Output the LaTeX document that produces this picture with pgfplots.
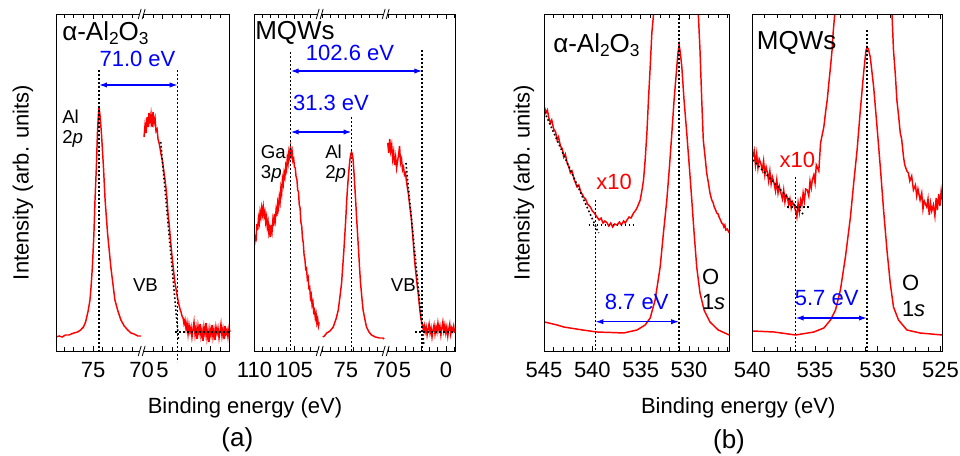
\documentclass[border=0pt]{standalone}
\usepackage{fontspec}
\setmainfont{Liberation Sans}
\usepackage{pgfplots}
\pgfplotsset{compat=1.18}
\usetikzlibrary{arrows.meta}
\definecolor{myred}{RGB}{255,0,0}
\definecolor{myblue}{RGB}{0,0,255}
\newcommand\fa{\fontsize{16.5}{19}\selectfont}
\newcommand\fb{\fontsize{14}{16}\selectfont}
\newcommand\ft{\fontsize{19.5}{22}\selectfont}
\newcommand\sub[1]{\raisebox{-0.25ex}{\fontsize{13}{14}\selectfont #1}}
\pgfplotsset{
  seg/.style={
    scale only axis, height=252.75pt, ymin=0, ymax=337, x dir=reverse,
    anchor=south west, ytick=\empty,
    axis line style={draw=none},
    tick style={black, line width=0.6pt},
    major tick length=4pt, minor tick length=3pt,
    xticklabel style={font=\fa, inner sep=1pt, yshift=-7pt},
    /pgf/number format/assume math mode=true,
  },
  curve/.style={myred, line width=1.1pt, no markers},
  dots/.style={black, line width=1.2pt, dash pattern=on 1.2pt off 1.8pt, no markers},
}
\newcommand\brk[1]{%
 \fill[white] ([shift={(-2.2pt,-3.6pt)}]#1) -- ([shift={(-0.2pt,3.6pt)}]#1) -- ([shift={(2.2pt,3.6pt)}]#1) -- ([shift={(0.2pt,-3.6pt)}]#1) -- cycle;
 \draw[line width=0.6pt] ([shift={(-2.6pt,-3.8pt)}]#1) -- ([shift={(-0.4pt,3.8pt)}]#1);
 \draw[line width=0.6pt] ([shift={(0.4pt,-3.8pt)}]#1) -- ([shift={(2.6pt,3.8pt)}]#1);
}
\begin{document}
\begin{tikzpicture}
\useasboundingbox (0,0) rectangle (720pt,341.25pt);
% ---------------- panel 1a
\begin{axis}[seg, name=p1a, at={(42pt,78pt)}, width=64.275pt, xmin=70, xmax=78.83,
  xtick={70,75}, minor xtick={71,72,73,74,76,77,78}]
\addplot[curve] coordinates {(78.83,14) (78.5,15) (78.2,14) (77.86,16) (77.5,16) (77.0,18) (76.6,19) (76.30,21) (76.0,24) (75.78,29) (75.52,40) (75.33,51) (75.21,65) (75.08,84) (74.92,118) (74.81,151) (74.67,184) (74.56,218) (74.47,235) (74.40,244) (74.30,236) (74.15,218) (73.94,184) (73.77,151) (73.52,118) (73.18,84) (72.76,51) (72.45,40) (72.14,31) (71.8,25) (71.44,21) (71.1,18) (70.78,17) (70.4,15) (70.05,15)};
\addplot[dots] coordinates {(74.40,281) (74.40,0)};
\coordinate (a1) at (axis cs:74.40,266);
\end{axis}
% ---------------- panel 1b
\begin{axis}[seg, name=p1b, at={(106.275pt,78pt)}, width=66.225pt, xmin=-2.03, xmax=7.17,
  xtick={0,5}, minor xtick={-2,-1,1,2,3,4,6,7}, clip=false]
\addplot[curve] coordinates {(6.93,214) (6.82,226) (6.72,218) (6.61,234) (6.51,224) (6.41,238) (6.30,229) (6.20,237) (6.09,224) (5.99,239) (5.89,228) (5.78,233) (5.68,220) (5.57,222) (5.47,212) (5.36,208) (5.26,203) (5.16,197) (5.05,192) (4.95,186) (4.84,178) (4.74,171) (4.64,163) (4.53,152) (4.43,138) (4.32,128) (4.22,117) (4.11,105) (4.01,95) (3.91,86) (3.80,76) (3.70,68) (3.59,62) (3.49,56) (3.39,51) (3.28,46) (3.18,42) (3.07,39) (2.97,35) (2.86,33) (2.76,27) (2.66,31) (2.55,22) (2.45,28) (2.34,17) (2.24,26) (2.14,19) (2.03,24) (1.93,14) (1.82,22) (1.72,29) (1.61,16) (1.51,23) (1.41,12) (1.30,25) (1.20,18) (1.09,27) (0.99,15) (0.89,21) (0.78,10) (0.68,24) (0.57,17) (0.47,28) (0.36,13) (0.26,20) (0.16,9) (0.05,22) (-0.05,16) (-0.16,26) (-0.26,14) (-0.36,21) (-0.47,11) (-0.57,24) (-0.68,18) (-0.78,23) (-0.89,13) (-0.99,20) (-1.09,27) (-1.20,15) (-1.30,22) (-1.41,12) (-1.51,25) (-1.61,17) (-1.72,21) (-1.82,14) (-1.93,23) (-2.03,19)};
\addplot[dots] coordinates {(3.42,281) (3.42,-11)};
\addplot[dots] coordinates {(5.19,209) (3.32,10)};
\addplot[dots] coordinates {(3.70,19) (-2.03,19)};
\coordinate (a2) at (axis cs:3.42,266);
\end{axis}
% ---------------- panel 2a
\begin{axis}[seg, name=p2a, at={(190.5pt,78pt)}, width=49.275pt, xmin=101.85, xmax=110.06,
  xtick={105,110}, minor xtick={102,103,104,106,107,108,109}]
\addplot[curve] coordinates {(110.0,106) (109.9,114) (109.8,112) (109.7,127) (109.6,121) (109.5,133) (109.4,128) (109.3,139) (109.2,134) (109.1,143) (109.0,137) (108.9,144) (108.8,135) (108.7,139) (108.6,129) (108.5,134) (108.4,124) (108.3,129) (108.2,118) (108.1,123) (108.0,114) (107.9,126) (107.8,120) (107.7,131) (107.6,125) (107.5,137) (107.4,131) (107.3,141) (107.2,135) (107.1,148) (107.0,143) (106.9,154) (106.8,149) (106.7,163) (106.6,158) (106.5,172) (106.4,167) (106.3,178) (106.2,174) (106.1,185) (106.0,181) (105.9,193) (105.8,188) (105.7,199) (105.6,194) (105.5,203) (105.4,196) (105.3,200) (105.2,190) (105.1,192) (105.0,184) (104.9,183) (104.8,174) (104.7,172) (104.6,161) (104.5,159) (104.4,146) (104.3,143) (104.2,129) (104.1,125) (104.0,113) (103.9,108) (103.8,96) (103.7,92) (103.6,82) (103.5,83) (103.4,72) (103.3,74) (103.2,63) (103.1,64) (103.0,53) (102.9,56) (102.8,46) (102.7,49) (102.6,39) (102.5,41) (102.4,33) (102.3,37) (102.2,28) (102.1,32) (102.0,25) (101.9,29)};
\addplot[dots] coordinates {(105.48,299) (105.48,0)};
\coordinate (b1) at (axis cs:105.48,280);
\coordinate (c1) at (axis cs:105.48,219);
\end{axis}
% ---------------- panel 2b
\begin{axis}[seg, name=p2b, at={(239.775pt,78pt)}, width=49.5pt, xmin=70.0, xmax=78.29,
  xtick={70,75}, minor xtick={71,72,73,74,76,77,78}]
\addplot[curve] coordinates {(77.91,14) (77.7,15) (77.41,18) (77.0,20) (76.59,24) (76.2,33) (75.96,41) (75.75,54) (75.54,68) (75.4,84) (75.25,101) (75.12,118) (75.0,134) (74.9,150) (74.79,164) (74.65,178) (74.5,191) (74.38,197) (74.29,199) (74.2,197) (74.09,191) (73.98,178) (73.875,164) (73.77,150) (73.66,134) (73.54,118) (73.41,101) (73.29,84) (73.16,68) (73.0,54) (72.84,41) (72.6,31) (72.41,24) (72.1,19) (71.79,16) (71.3,14) (70.8,13) (70.34,13) (70.21,12)};
\addplot[dots] coordinates {(74.29,234) (74.29,0)};
\coordinate (c2) at (axis cs:74.29,219);
\end{axis}
% ---------------- panel 2c
\begin{axis}[seg, name=p2c, at={(289.275pt,78pt)}, width=51.975pt, xmin=-1.10, xmax=7.35,
  xtick={0,5}, minor xtick={-1,1,2,3,4,6,7}]
\addplot[curve] coordinates {(7.10,208) (6.98,198) (6.86,212) (6.74,200) (6.62,206) (6.50,192) (6.38,199) (6.26,186) (6.14,194) (6.02,183) (5.90,190) (5.78,196) (5.66,205) (5.54,188) (5.42,192) (5.30,181) (5.18,184) (5.06,176) (4.94,178) (4.82,170) (4.70,163) (4.58,157) (4.46,148) (4.34,140) (4.22,132) (4.10,120) (3.98,108) (3.86,94) (3.74,83) (3.62,74) (3.50,65) (3.38,57) (3.26,47) (3.14,38) (3.02,31) (2.90,26) (2.78,22) (2.66,26) (2.54,19) (2.42,24) (2.30,16) (2.18,22) (2.06,27) (1.94,18) (1.82,23) (1.70,14) (1.58,21) (1.46,26) (1.34,17) (1.22,24) (1.10,19) (0.98,28) (0.86,21) (0.74,25) (0.62,16) (0.50,23) (0.38,29) (0.26,20) (0.14,26) (0.02,18) (-0.10,24) (-0.22,15) (-0.34,22) (-0.46,27) (-0.58,17) (-0.70,23) (-0.82,20) (-0.94,25) (-1.06,18)};
\addplot[dots] coordinates {(2.89,301) (2.89,0)};
\addplot[dots] coordinates {(4.88,188) (2.68,5)};
\addplot[dots] coordinates {(3.78,19) (-1.10,19)};
\coordinate (b2) at (axis cs:2.89,280);
\end{axis}
% ---------------- panel 3
\begin{axis}[seg, name=p3, at={(408pt,78pt)}, width=139.125pt, xmin=525.82, xmax=545,
  xtick={530,535,540,545}, minor xtick={526,...,544}]
\addplot[curve] coordinates {(544.95,29) (543.64,26) (542.96,24) (541.0,21) (539.52,19) (538.0,18.5) (536.77,18) (535.39,21) (534.54,26) (534.02,33) (533.51,51) (532.99,84) (532.65,118) (532.30,151) (532.03,184) (531.78,218) (531.55,251) (531.27,284) (531.15,298) (531.03,306) (530.9,298) (530.75,284) (530.52,251) (530.24,218) (529.97,184) (529.72,151) (529.48,118) (529.21,84) (528.87,58) (528.45,41) (527.84,29) (526.98,21) (525.85,16)};
\addplot[curve] coordinates {(544.95,244) (544.8,238) (544.65,241) (544.5,233) (544.33,228) (544.2,231) (544.0,222) (543.8,219) (543.64,211) (543.5,214) (543.3,205) (543.1,202) (542.96,194) (542.8,197) (542.6,188) (542.4,183) (542.27,178) (542.1,180) (541.9,172) (541.7,167) (541.58,164) (541.4,166) (541.2,159) (541.0,156) (540.90,154) (540.7,152) (540.5,147) (540.3,145) (540.21,144) (540.0,140) (539.8,138) (539.52,134) (539.3,131) (539.1,133) (538.9,128) (538.7,130) (538.48,128) (538.3,125) (538.1,128) (537.9,124) (537.7,127) (537.45,126) (537.2,129) (537.0,126) (536.77,130) (536.6,128) (536.42,131) (536.2,134) (536.0,133) (535.74,138) (535.5,141) (535.3,145) (535.05,151) (534.85,162) (534.71,171) (534.54,191) (534.36,218) (534.20,251) (534.02,284) (533.85,318) (533.68,336) (533.4,400) (529.2,400) (529.04,336) (528.87,301) (528.69,251) (528.53,211) (528.3,190) (528.18,178) (528.0,168) (527.84,158) (527.66,151) (527.5,148) (527.4,144) (527.25,141) (527.14,138) (527.0,137) (526.9,134) (526.75,131) (526.63,128) (526.5,127) (526.4,124) (526.3,126) (526.2,121) (526.05,122) (525.85,118)};
\addplot[dots] coordinates {(544.95,239) (539.35,118)};
\addplot[dots] coordinates {(540.38,126) (535.57,126)};
\addplot[dots] coordinates {(539.69,151) (539.69,0)};
\addplot[dots] coordinates {(531.03,337) (531.03,0)};
\addplot[myblue, line width=1pt, no markers, {Latex[length=6pt,width=4pt]}-{Latex[length=6pt,width=4pt]}] coordinates {(539.69,29.3) (531.03,29.3)};
\end{axis}
% ---------------- panel 4
\begin{axis}[seg, name=p4, at={(564.225pt,78pt)}, width=142.5pt, xmin=524.86, xmax=540,
  xtick={525,530,535,540}, minor xtick={525,...,540}]
\addplot[curve] coordinates {(539.94,20) (538.27,19) (536.55,16) (535.10,19) (534.30,23) (533.77,31) (533.37,41) (532.98,61) (532.58,94) (532.18,134) (531.92,168) (531.65,201) (531.39,241) (531.13,278) (530.95,300) (530.86,304) (530.75,302) (530.60,294) (530.33,264) (530.06,224) (529.80,184) (529.54,141) (529.27,101) (529.01,68) (528.75,44) (528.35,31) (527.68,21) (526.63,18) (524.86,16)};
\addplot[curve] coordinates {(539.94,194) (539.85,200) (539.75,186) (539.65,197) (539.55,183) (539.45,192) (539.33,188) (539.2,181) (539.1,190) (539.0,176) (538.9,184) (538.79,178) (538.7,170) (538.6,180) (538.5,167) (538.4,174) (538.27,168) (538.15,160) (538.05,171) (537.95,158) (537.85,165) (537.74,159) (537.6,152) (537.5,161) (537.4,149) (537.3,156) (537.21,154) (537.1,146) (537.0,152) (536.9,143) (536.8,149) (536.68,146) (536.55,140) (536.45,134) (536.35,148) (536.25,139) (536.15,151) (536.05,146) (535.95,158) (535.85,150) (535.75,162) (535.62,161) (535.5,155) (535.4,170) (535.3,163) (535.22,171) (535.1,176) (535.0,168) (534.9,186) (534.83,184) (534.7,180) (534.6,200) (534.56,208) (534.45,215) (534.30,224) (534.15,240) (534.03,251) (533.9,268) (533.77,284) (533.65,300) (533.56,318) (533.43,337) (533.3,400) (528.95,400) (528.87,337) (528.75,301) (528.6,276) (528.48,251) (528.35,236) (528.21,218) (528.1,212) (527.95,194) (527.85,186) (527.68,180) (527.56,178) (527.45,170) (527.3,175) (527.16,161) (527.0,166) (526.9,155) (526.8,162) (526.63,151) (526.5,158) (526.4,142) (526.3,150) (526.10,144) (526.0,152) (525.9,136) (525.8,148) (525.7,140) (525.57,146) (525.45,135) (525.35,153) (525.25,141) (525.15,157) (525.05,145) (524.95,160) (524.86,151)};
\addplot[dots] coordinates {(539.94,191) (535.89,136)};
\addplot[dots] coordinates {(537.21,144) (535.36,144)};
\addplot[dots] coordinates {(536.55,174) (536.55,0)};
\addplot[dots] coordinates {(530.86,321) (530.86,0)};
\addplot[myblue, line width=1pt, no markers, {Latex[length=6pt,width=4pt]}-{Latex[length=6pt,width=4pt]}] coordinates {(536.55,33) (530.86,33)};
\end{axis}
% ---------------- frames, breaks, arrows
\draw[line width=0.75pt] (p1a.south west) rectangle (p1b.north east);
\draw[line width=0.75pt] (p2a.south west) rectangle (p2c.north east);
\draw[line width=0.75pt] (p3.south west) rectangle (p3.north east);
\draw[line width=0.75pt] (p4.south west) rectangle (p4.north east);
\brk{p1a.north east}\brk{p1a.south east}
\brk{p2a.north east}\brk{p2a.south east}
\brk{p2b.north east}\brk{p2b.south east}
\draw[myblue, line width=1pt, {Latex[length=6pt,width=4pt]}-{Latex[length=6pt,width=4pt]}] (a1) -- (a2);
\draw[myblue, line width=1pt, {Latex[length=6pt,width=4pt]}-{Latex[length=6pt,width=4pt]}] (b1) -- (b2);
\draw[myblue, line width=1pt, {Latex[length=6pt,width=4pt]}-{Latex[length=6pt,width=4pt]}] (c1) -- (c2);
% ---------------- texts
\node[anchor=west, font=\ft, inner sep=0pt] at (46.5pt,316.5pt) {α-Al\sub{2}O\sub{3}};
\node[font=\fa, text=myblue, inner sep=0pt] at (103.1pt,297pt) {71.0 eV};
\node[anchor=west, font=\fb, inner sep=0pt] at (46.5pt,253.5pt) {Al};
\node[anchor=base west, font=\fb, inner sep=0pt] at (46.5pt,233.5pt) {2\textit{p}};
\node[font=\fb, inner sep=0pt] at (109.1pt,127.5pt) {VB};
\node[anchor=west, font=\ft, inner sep=0pt] at (191.25pt,316.5pt) {MQWs};
\node[font=\fa, text=myblue, inner sep=0pt] at (262.5pt,301.3pt) {102.6 eV};
\node[font=\fa, text=myblue, inner sep=0pt] at (248.25pt,264pt) {31.3 eV};
\node[anchor=west, font=\fb, inner sep=0pt] at (195.5pt,227.25pt) {Ga};
\node[anchor=base west, font=\fb, inner sep=0pt] at (195.5pt,207.25pt) {3\textit{p}};
\node[anchor=west, font=\fb, inner sep=0pt] at (243.75pt,227.25pt) {Al};
\node[anchor=base west, font=\fb, inner sep=0pt] at (243.75pt,207.25pt) {2\textit{p}};
\node[font=\fb, inner sep=0pt] at (302.5pt,127.5pt) {VB};
\node[anchor=west, font=\ft, inner sep=0pt] at (414.75pt,307.5pt) {α-Al\sub{2}O\sub{3}};
\node[font=\fa, text=myred, inner sep=0pt] at (460.5pt,205pt) {x10};
\node[font=\fa, text=myblue, inner sep=0pt] at (477.5pt,115pt) {8.7 eV};
\node[anchor=west, font=\fa, inner sep=0pt] at (526.3pt,133.7pt) {O};
\node[anchor=base west, font=\fa, inner sep=0pt] at (526.3pt,109pt) {1\textit{s}};
\node[anchor=west, font=\ft, inner sep=0pt] at (567.5pt,309pt) {MQWs};
\node[font=\fa, text=myred, inner sep=0pt] at (598.1pt,221.25pt) {x10};
\node[font=\fa, text=myblue, inner sep=0pt] at (620pt,117.5pt) {5.7 eV};
\node[anchor=west, font=\fa, inner sep=0pt] at (676.3pt,129pt) {O};
\node[anchor=base west, font=\fa, inner sep=0pt] at (676.3pt,104pt) {1\textit{s}};
\node[font=\fa, rotate=90] at (17.25pt,204.4pt) {Intensity (arb. units)};
\node[font=\fa, rotate=90] at (393pt,204.4pt) {Intensity (arb. units)};
\node[font=\fa] at (183.75pt,35.25pt) {Binding energy (eV)};
\node[font=\fa] at (553.7pt,35.25pt) {Binding energy (eV)};
\node[font=\ft] at (178pt,11.5pt) {(a)};
\node[font=\ft] at (546.75pt,10pt) {(b)};
\end{tikzpicture}
\end{document}
